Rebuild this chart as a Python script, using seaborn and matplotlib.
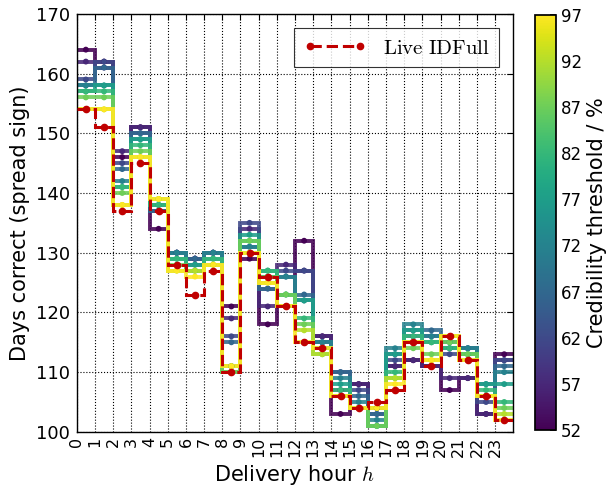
import numpy as np
import pandas as pd
import matplotlib
matplotlib.use("Agg")
import matplotlib.pyplot as plt
from matplotlib.lines import Line2D
import seaborn as sns

# --- data ---
hours = list(range(24))
thresholds = [52, 57, 62, 67, 72, 77, 82, 87, 92, 97]

t52 = [164, 162, 146, 151, 134, 130, 129, 130, 121, 129, 118, 121, 132, 116, 103, 108, 104, 111, 112, 111, 107, 109, 103, 113]
t57 = [162, 161, 147, 151, 137, 130, 129, 130, 119, 134, 121, 128, 127, 116, 107, 108, 104, 111, 112, 111, 109, 109, 103, 112]
t62 = [159, 162, 145, 150, 137, 130, 129, 130, 116, 135, 124, 127, 127, 115, 110, 107, 103, 112, 116, 116, 113, 114, 105, 112]
t67 = [158, 161, 144, 150, 137, 130, 129, 130, 115, 131, 124, 126, 123, 115, 110, 106, 103, 113, 117, 117, 114, 114, 106, 111]
t72 = [158, 158, 142, 149, 138, 130, 128, 130, 111, 131, 126, 126, 122, 115, 109, 105, 102, 114, 118, 116, 115, 114, 108, 110]
t77 = [157, 158, 141, 149, 138, 129, 128, 129, 111, 133, 127, 123, 122, 114, 108, 104, 101, 113, 117, 115, 114, 113, 108, 108]
t82 = [157, 157, 141, 148, 138, 129, 127, 129, 110, 132, 127, 123, 119, 114, 107, 104, 101, 110, 116, 115, 114, 113, 107, 105]
t87 = [156, 156, 140, 147, 139, 128, 127, 128, 110, 132, 126, 123, 118, 113, 106, 104, 101, 109, 114, 113, 115, 113, 106, 104]
t92 = [154, 154, 138, 146, 139, 127, 127, 128, 111, 130, 125, 121, 117, 113, 106, 104, 104, 109, 115, 112, 116, 112, 106, 103]
t97 = [154, 154, 138, 146, 139, 127, 126, 128, 111, 130, 125, 121, 115, 114, 106, 104, 104, 108, 115, 112, 116, 112, 106, 102]
live_idfull = [154, 151, 137, 145, 137, 128, 123, 127, 110, 130, 126, 121, 115, 114, 106, 104, 105, 107, 115, 111, 116, 112, 106, 102]

series = [t52, t57, t62, t67, t72, t77, t82, t87, t92, t97]

df = pd.DataFrame({
    "hour": np.tile(hours, len(thresholds)),
    "threshold": np.repeat(thresholds, len(hours)),
    "days": np.concatenate(series),
})
df["mid"] = df["hour"] + 0.5

sns.set_theme(style="white")
plt.rcParams["font.family"] = ["DejaVu Sans"]
plt.rcParams["mathtext.fontset"] = "cm"
plt.rcParams["xtick.direction"] = "in"
plt.rcParams["ytick.direction"] = "in"
for k in ["text.color", "axes.labelcolor", "xtick.color", "ytick.color"]:
    plt.rcParams[k] = "black"

fig = plt.figure(figsize=(6.14, 4.93), dpi=100)
ax = fig.add_axes([0.125, 0.124, 0.711, 0.848])
cax = fig.add_axes([0.871, 0.128, 0.034, 0.842])

norm = plt.Normalize(min(thresholds), max(thresholds))
cmap = plt.get_cmap("viridis")
edges = np.arange(len(hours) + 1)

# step lines per threshold, markers at the middle of each hour
for t, vals in zip(thresholds, series):
    ax.stairs(vals, edges, baseline=None, color=cmap(norm(t)), lw=2.8, alpha=0.88, zorder=2)

sns.scatterplot(data=df, x="mid", y="days", hue="threshold", palette="viridis",
                hue_norm=(min(thresholds), max(thresholds)), s=18, linewidth=0,
                legend=False, ax=ax, zorder=3)

red = "#c00000"
ax.stairs(live_idfull, edges, baseline=None, color=red, lw=2.2, ls="--", zorder=4)
ax.plot(np.array(hours) + 0.5, live_idfull, "o", color=red, ms=4.5, mec=red, zorder=5)

handle = Line2D([], [], color=red, ls="--", lw=2.2, marker="o", ms=4.5)
leg = ax.legend([handle], [r"$\mathrm{Live\ IDFull}$"], loc="upper right",
                numpoints=2, fontsize=15, frameon=True, fancybox=False,
                borderaxespad=0.7, handlelength=3.0, borderpad=0.45)
leg.get_frame().set_edgecolor("black")
leg.get_frame().set_linewidth(0.8)

ax.set_xlim(0, 24)
ax.set_ylim(100, 170)
ax.set_xticks(hours)
ax.set_xticklabels([str(h) for h in hours], rotation=90, fontsize=11.5)
ax.set_yticks(range(100, 171, 10))
ax.tick_params(axis="y", labelsize=13, pad=5)
ax.tick_params(which="both", top=True, right=True, length=4, width=0.8, color="black")
ax.grid(True, color="black", ls=":", lw=0.8)
for s in ax.spines.values():
    s.set_color("black")
    s.set_linewidth(1.0)
ax.set_xlabel(r"Delivery hour $h$", fontsize=15)
ax.set_ylabel("Days correct (spread sign)", fontsize=15)

sm = plt.cm.ScalarMappable(cmap=cmap, norm=norm)
cb = fig.colorbar(sm, cax=cax, ticks=thresholds)
cb.set_label("Credibility threshold / %", fontsize=15)
cb.ax.tick_params(labelsize=12, direction="in", length=4, color="black")
cb.outline.set_edgecolor("black")

fig.savefig("out.png", dpi=100)
